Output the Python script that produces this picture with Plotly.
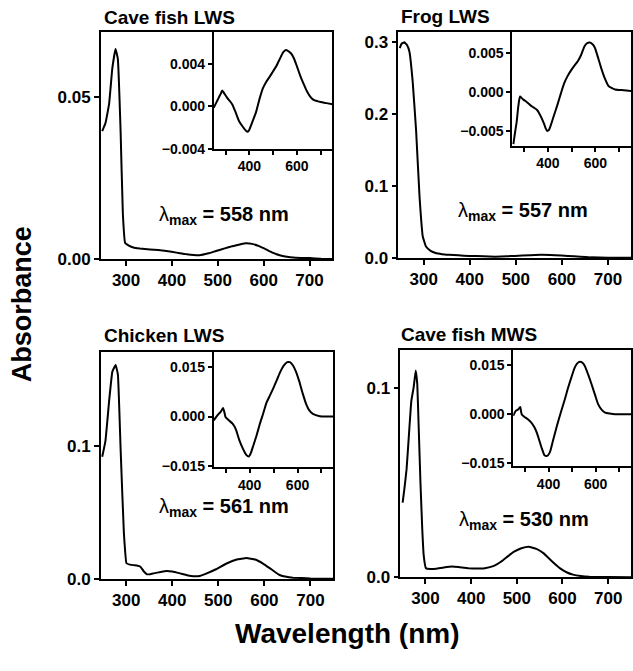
import plotly.graph_objects as go

W, H = 633, 671

# ---------------- data ----------------
titles = ["Cave fish LWS", "Frog LWS", "Chicken LWS", "Cave fish MWS"]
lmax = [558, 557, 561, 530]

wl_cf_lws = [248,255,263,270,277,282,288,293,298,306,316,330,352,370,388,410,432,460,480,496,515,532,550,561,575,590,605,619,635,647,670,700,725,750]
ab_cf_lws = [0.0396,0.042,0.048,0.059,0.065,0.062,0.040,0.014,0.005,0.0042,0.0036,0.0033,0.003,0.0028,0.0025,0.002,0.0015,0.0012,0.0018,0.0025,0.0033,0.004,0.0046,0.0049,0.0047,0.004,0.003,0.002,0.0012,0.0008,0.0004,0.0003,0.0001,0.0]

wl_frog = [248,252,258,264,269,276,283.5,291,298,305,315,326,340,355,375,398,430,455,480,498,530,556,585,613,640,663,700,750]
ab_frog = [0.292,0.298,0.300,0.296,0.287,0.246,0.177,0.085,0.030,0.016,0.010,0.007,0.0055,0.0046,0.0038,0.003,0.0025,0.002,0.0025,0.003,0.004,0.0046,0.004,0.003,0.002,0.001,0.0006,0.0005]

wl_chick = [248,255,263,270,277,282,288,295,300.7,308,316,323,331,338,345,352,360,375,388,400,417,432,446,460,475,495,518,540,561,580,597,615,633,648,662,700,750]
ab_chick = [0.092,0.104,0.134,0.156,0.161,0.154,0.097,0.035,0.012,0.011,0.0106,0.0104,0.0094,0.006,0.0037,0.0038,0.0044,0.0055,0.0062,0.0058,0.0044,0.003,0.0022,0.0025,0.0044,0.0075,0.0118,0.0148,0.016,0.0148,0.0118,0.0075,0.0032,0.0018,0.0012,0.0006,0.0004]

wl_cf_mws = [250,254,258.6,264,269,274,278.6,282,285,289,293,296,301,310,323,340,359,375,394,410,430,450,466,480,494,510,526,543,559,575,594,610,623,640,659,700,750]
ab_cf_mws = [0.0394,0.047,0.057,0.076,0.093,0.100,0.109,0.102,0.080,0.050,0.025,0.0118,0.0048,0.0044,0.0045,0.0052,0.0057,0.0053,0.0048,0.0046,0.0048,0.006,0.0083,0.011,0.0135,0.0153,0.0161,0.0150,0.0126,0.0088,0.0048,0.0025,0.0014,0.0007,0.0003,0.0001,0.0]

# difference spectra (insets)
wl_i_cf_lws = [250,260,271,280,286,295,307,318,329,343,357,372,386,393,400,414,429,443,457,471,486,500,514,529,543,554,564,575,586,600,614,629,643,657,671,700,725,750]
df_cf_lws = [-0.00015,0.0003,0.0008,0.0012,0.0015,0.0012,0.0008,0.0005,0.00015,-0.0006,-0.0014,-0.0019,-0.0023,-0.0024,-0.0022,-0.0014,-0.0005,0.0007,0.0017,0.0023,0.0028,0.0033,0.0038,0.0045,0.0051,0.0053,0.0052,0.0050,0.0046,0.0038,0.0029,0.0021,0.0014,0.0009,0.0006,0.0004,0.0003,0.0002]

wl_i_frog = [255,262,269,276,283,290,297,311,326,340,354,368,383,390,397,404,411,425,440,455,469,483,497,511,526,540,554,565,576,587,597,611,626,640,654,668,683,720,750]
df_frog = [-0.0067,-0.0052,-0.0038,-0.0018,-0.0006,-0.0008,-0.001,-0.0013,-0.0017,-0.002,-0.0023,-0.003,-0.004,-0.0046,-0.005,-0.0049,-0.0044,-0.0031,-0.0017,-0.0002,0.0011,0.002,0.0027,0.0033,0.0039,0.0047,0.0058,0.0062,0.0063,0.0061,0.0057,0.0044,0.0029,0.0017,0.0008,0.0005,0.0003,0.0002,0.0001]

wl_i_chick = [250,260,271,280,289,295,300,314,329,343,357,372,386,397,405,414,429,443,457,471,486,500,514,529,543,557,568,579,593,607,621,636,650,664,693,720,750]
df_chick = [-0.0012,-0.0002,0.0008,0.0015,0.0026,0.0012,-0.0002,-0.0012,-0.0022,-0.004,-0.0072,-0.0098,-0.0117,-0.0122,-0.0112,-0.0092,-0.0058,-0.0022,0.001,0.0043,0.0066,0.0088,0.0112,0.0138,0.0156,0.0166,0.0166,0.0158,0.0138,0.0108,0.0072,0.0038,0.0018,0.0008,0.0001,0.0,0.0]

wl_i_cf_mws = [250,261,270,280,283,286,297,311,326,340,351,361,372,383,394,405,419,436,454,469,483,497,511,522,533,544,554,568,583,597,611,626,640,660,683,720,750]
df_cf_mws = [-0.0005,0.001,0.0014,0.0022,0.001,0.0,-0.0008,-0.0015,-0.0025,-0.004,-0.0058,-0.0081,-0.0106,-0.0126,-0.0128,-0.0118,-0.0081,-0.0035,0.001,0.0045,0.0081,0.0113,0.0143,0.0156,0.0161,0.0158,0.0148,0.0122,0.0091,0.006,0.003,0.0013,0.0005,0.0002,0.0,0.0,0.0]

main_x = [wl_cf_lws, wl_frog, wl_chick, wl_cf_mws]
main_y = [ab_cf_lws, ab_frog, ab_chick, ab_cf_mws]
ins_x = [wl_i_cf_lws, wl_i_frog, wl_i_chick, wl_i_cf_mws]
ins_y = [df_cf_lws, df_frog, df_chick, df_cf_mws]

x_ticks = [300, 400, 500, 600, 700]
ins_x_major = [400, 600]
ins_x_minor = [300, 500, 700]
main_yticks = [[0.0, 0.05], [0.0, 0.1, 0.2, 0.3], [0.0, 0.1], [0.0, 0.1]]
main_yfmt = [".2f", ".1f", ".1f", ".1f"]
main_yrange = [[0, 0.0704], [0, 0.315], [0, 0.171], [0, 0.120]]
ins_yticks = [[-0.004, 0.0, 0.004], [-0.005, 0.0, 0.005], [-0.015, 0.0, 0.015], [-0.015, 0.0, 0.015]]
ins_yrange = [[-0.004, 0.00705], [-0.0069, 0.0077], [-0.0154, 0.0198], [-0.0159, 0.0198]]

# ---------------- layout geometry (pixels) ----------------
main_box = [(101, 333, 32, 263), (399, 632, 32, 262), (101, 334, 357, 588), (401, 632, 355, 586)]
ins_box = [(214, 333, 32, 151), (513, 632, 32, 148), (214, 334, 357, 474), (514, 632, 355, 473)]
title_pos = [(102, 18), (400, 17), (102, 341), (400, 340)]
lam_pos = [(157, 219), (457, 215), (157, 515), (458, 528)]

FONT = "Liberation Sans, Arial, sans-serif"

def xd(a, b):
    return [a / W, b / W]

def yd(top, bot):
    return [1 - bot / H, 1 - top / H]

fig = go.Figure()
layout = dict(
    width=W, height=H, margin=dict(l=0, r=0, t=0, b=0),
    paper_bgcolor="white", plot_bgcolor="rgba(0,0,0,0)",
    showlegend=False, font=dict(family=FONT, color="black"),
)

axis_common = dict(
    showline=True, linecolor="black", linewidth=1.6, mirror=True,
    ticks="outside", ticklen=5, tickwidth=1.5, tickcolor="black",
    showgrid=False, zeroline=False, fixedrange=True,
)

annotations = []
for i in range(4):
    mx, my = f"x{i+1}", f"y{i+1}"
    ix, iy = f"x{i+5}", f"y{i+5}"
    fig.add_trace(go.Scatter(x=main_x[i], y=main_y[i], mode="lines",
                             line=dict(color="black", width=2, shape="spline", smoothing=0.3),
                             xaxis=mx, yaxis=my, hoverinfo="skip"))
    fig.add_trace(go.Scatter(x=ins_x[i], y=ins_y[i], mode="lines",
                             line=dict(color="black", width=2, shape="spline", smoothing=0.6),
                             xaxis=ix, yaxis=iy, hoverinfo="skip"))
    a, b, t, bt = main_box[i]
    layout[f"xaxis{i+1}"] = dict(axis_common, domain=xd(a, b), range=[245, 750], anchor=my,
                                 tickvals=x_ticks, tickfont=dict(size=17, weight="bold", family=FONT))
    layout[f"yaxis{i+1}"] = dict(axis_common, domain=yd(t, bt), range=main_yrange[i], anchor=mx,
                                 tickvals=main_yticks[i], tickformat=main_yfmt[i],
                                 tickfont=dict(size=17, weight="bold", family=FONT))
    a, b, t, bt = ins_box[i]
    layout[f"xaxis{i+5}"] = dict(axis_common, domain=xd(a, b), range=[250, 750], anchor=iy,
                                 tickvals=ins_x_major, ticklen=4,
                                 minor=dict(tickvals=ins_x_minor, ticks="outside", ticklen=4,
                                            tickwidth=1.5, tickcolor="black", showgrid=False),
                                 tickfont=dict(size=14, weight="bold", family=FONT))
    layout[f"yaxis{i+5}"] = dict(axis_common, domain=yd(t, bt), range=ins_yrange[i], anchor=ix,
                                 tickvals=ins_yticks[i], tickformat=".3f", ticklen=4,
                                 tickfont=dict(size=14, weight="bold", family=FONT))
    tx, ty = title_pos[i]
    annotations.append(dict(text=f"<b>{titles[i]}</b>", x=tx / W, y=1 - ty / H, xref="paper", yref="paper",
                            xanchor="left", yanchor="middle", showarrow=False,
                            font=dict(size=19, family=FONT, color="black")))
    lx, ly = lam_pos[i]
    annotations.append(dict(text=f"λ<sub><b>max</b></sub><b> = {lmax[i]} nm</b>", x=lx / W, y=1 - ly / H,
                            xref="paper", yref="paper", xanchor="left", yanchor="middle", showarrow=False,
                            font=dict(size=20, family=FONT, color="black")))

annotations.append(dict(text="<b>Absorbance</b>", x=22 / W, y=1 - 309 / H, xref="paper", yref="paper",
                        xanchor="center", yanchor="middle", textangle=-90, showarrow=False,
                        font=dict(size=27, family=FONT, color="black")))
annotations.append(dict(text="<b>Wavelength (nm)</b>", x=348 / W, y=1 - 643 / H, xref="paper", yref="paper",
                        xanchor="center", yanchor="middle", showarrow=False,
                        font=dict(size=28, family=FONT, color="black")))
layout["annotations"] = annotations

fig.update_layout(**layout)
fig.write_html("out.html")
